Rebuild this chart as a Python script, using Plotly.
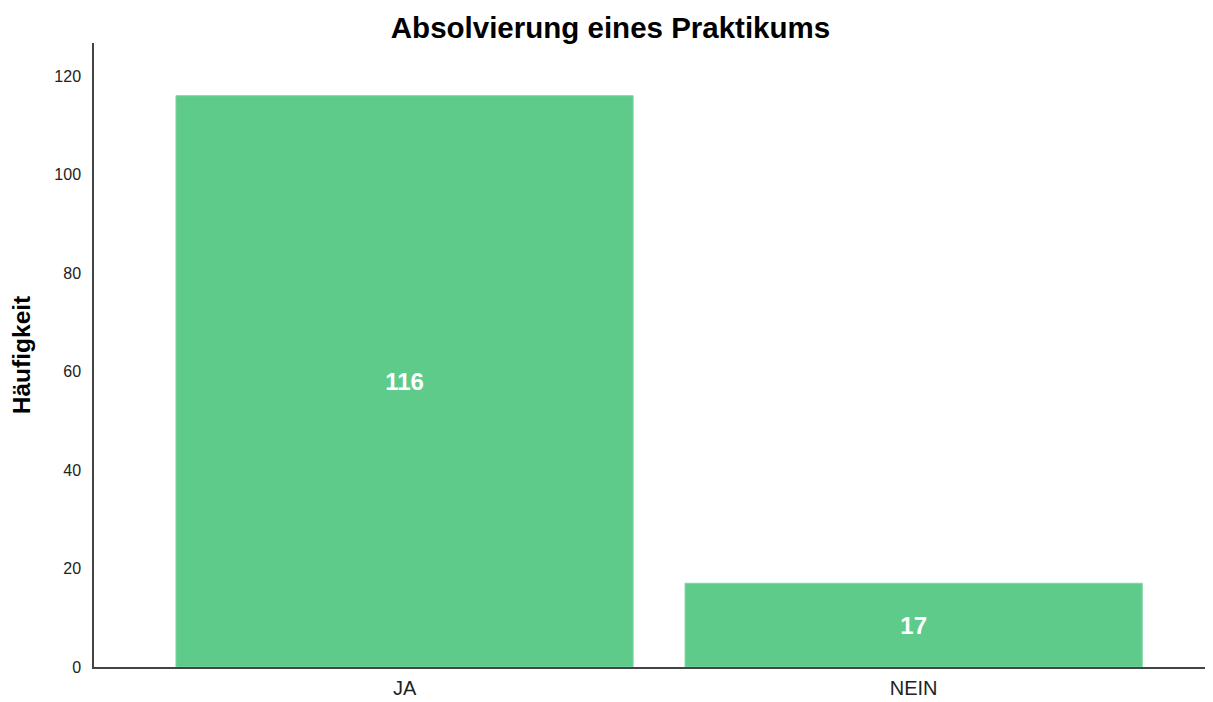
import plotly.graph_objects as go

categories = ["JA", "NEIN"]
counts = [116, 17]
y_ticks = [0, 20, 40, 60, 80, 100, 120]

fig = go.Figure(
    go.Bar(
        x=categories,
        y=counts,
        text=[str(v) for v in counts],
        textposition="inside",
        insidetextanchor="middle",
        textfont=dict(family="Liberation Sans, Arial", size=24, color="white", weight="bold"),
        marker=dict(color="#5ECB8B", line=dict(color="#7FD6A3", width=1)),
        width=0.898,
        showlegend=False,
    )
)

fig.update_layout(
    width=1205,
    height=694,
    paper_bgcolor="white",
    plot_bgcolor="white",
    margin=dict(l=86, r=0, t=35, b=35, autoexpand=False),
    uniformtext=dict(minsize=8, mode="show"),
    title=dict(
        text="<b>Absolvierung eines Praktikums</b>",
        x=0.5,
        xanchor="center",
        y=1 - 20 / 694,
        yanchor="middle",
        font=dict(family="Liberation Sans, Arial", size=29.5, color="black"),
    ),
)

fig.update_xaxes(
    range=[-0.61, 1.588],
    showline=True,
    linecolor="#444444",
    linewidth=1.5,
    ticks="",
    showgrid=False,
    tickfont=dict(family="Liberation Sans, Arial", size=20, color="#222222"),
    ticklabelstandoff=2,
)
fig.update_yaxes(
    range=[0, 126.7],
    tickvals=y_ticks,
    showline=True,
    linecolor="#444444",
    linewidth=1.5,
    ticks="",
    showgrid=False,
    zeroline=False,
    tickfont=dict(family="Liberation Sans, Arial", size=16, color="#222222"),
    ticklabelstandoff=8,
    title=dict(
        text="<b>Häufigkeit</b>",
        font=dict(family="Liberation Sans, Arial", size=24.5, color="black"),
        standoff=22,
    ),
)

fig.write_html("out.html")
